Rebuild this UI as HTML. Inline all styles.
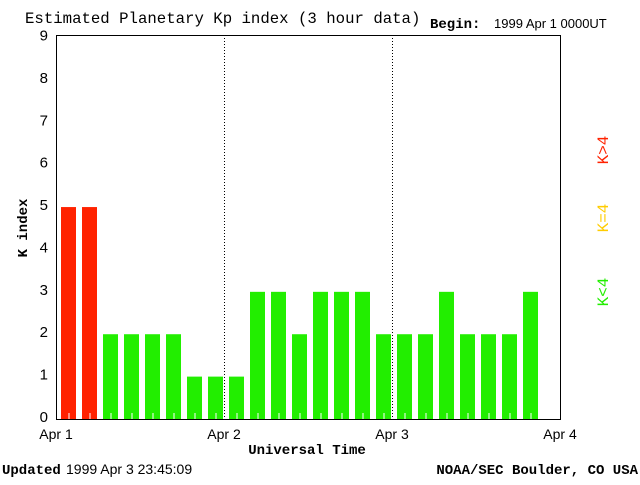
<!DOCTYPE html>
<html><head><style>
body{margin:0;background:#fff;}
</style></head><body>
<svg id="c" width="640" height="480" xmlns="http://www.w3.org/2000/svg" font-family="Liberation Sans, sans-serif">
<text x="25" y="23" font-family="Liberation Mono, monospace" font-size="15.7">Estimated Planetary Kp index (3 hour data)</text>
<text x="430" y="28" font-size="14" font-family="Liberation Mono, monospace" font-weight="bold">Begin:</text>
<text x="494" y="28" font-size="13">1999 Apr 1 0000UT</text>
<text x="27" y="228" font-size="14" font-family="Liberation Mono, monospace" font-weight="bold" transform="rotate(-90 27 228)" text-anchor="middle">K index</text>
<text x="307" y="454" font-size="14" font-family="Liberation Mono, monospace" font-weight="bold" text-anchor="middle">Universal Time</text>
<text x="2" y="474" font-size="14" font-family="Liberation Mono, monospace" font-weight="bold">Updated</text>
<text x="66" y="474" font-size="14">1999 Apr  3 23:45:09</text>
<text x="638" y="474" font-size="14" font-family="Liberation Mono, monospace" font-weight="bold" text-anchor="end">NOAA/SEC Boulder, CO USA</text>
<text x="608" y="150" font-size="16" font-family="Liberation Mono, monospace" fill="#ff2200" transform="rotate(-90 608 150)" text-anchor="middle">K&gt;4</text>
<text x="608" y="218" font-size="16" font-family="Liberation Mono, monospace" fill="#ffcc00" transform="rotate(-90 608 218)" text-anchor="middle">K=4</text>
<text x="608" y="292" font-size="16" font-family="Liberation Mono, monospace" fill="#22ee00" transform="rotate(-90 608 292)" text-anchor="middle">K&lt;4</text>
<g id="plot"></g>
</svg>
<script>
const values=[5,5,2,2,2,2,1,1,1,3,3,2,3,3,3,2,2,2,3,2,2,2,3];
const yTicks=[0,1,2,3,4,5,6,7,8,9];
const dayLabels=["Apr 1","Apr 2","Apr 3","Apr 4"];
const X0=56,X1=560,YT=35,Y0=419,slots=24;
const sw=(X1-X0)/slots;
const ys=v=>Y0-v*(Y0-37.5)/9;
const xs=i=>X0+i*sw;
const g=document.getElementById('plot');
const NS='http://www.w3.org/2000/svg';
function mk(t,a){const e=document.createElementNS(NS,t);for(const k in a)e.setAttribute(k,a[k]);g.appendChild(e);return e;}
values.forEach((v,i)=>{
 const col=v>4?'#ff2200':(v==4?'#ffcc00':'#22ee00');
 const r=mk('rect',{x:xs(i)+5,y:ys(v),width:15,height:Y0-ys(v),fill:col});
 
 
 const t=mk('line',{x1:xs(i)+13,x2:xs(i)+13,y1:Y0-6,y2:Y0,stroke:'#fff'});
 
 
});
[1,2].forEach(d=>{
 const l=mk('line',{x1:X0+d*8*sw+0.5,x2:X0+d*8*sw+0.5,y1:YT,y2:Y0,stroke:'#000','stroke-dasharray':'1,2'});
 
 
});
const f=mk('rect',{x:X0+0.5,y:YT+0.5,width:X1-X0,height:Y0-YT,fill:'none',stroke:'#000'});


yTicks.forEach(v=>{
 const t=mk('text',{x:48,y:ys(v)+3,'font-size':15,'text-anchor':'end'});t.textContent=v;
 
 
});
dayLabels.forEach((s,d)=>{
 const t=mk('text',{x:X0+d*8*sw,y:439,'font-size':14,'text-anchor':'middle'});t.textContent=s;
 
 
});
</script>
</body></html>
